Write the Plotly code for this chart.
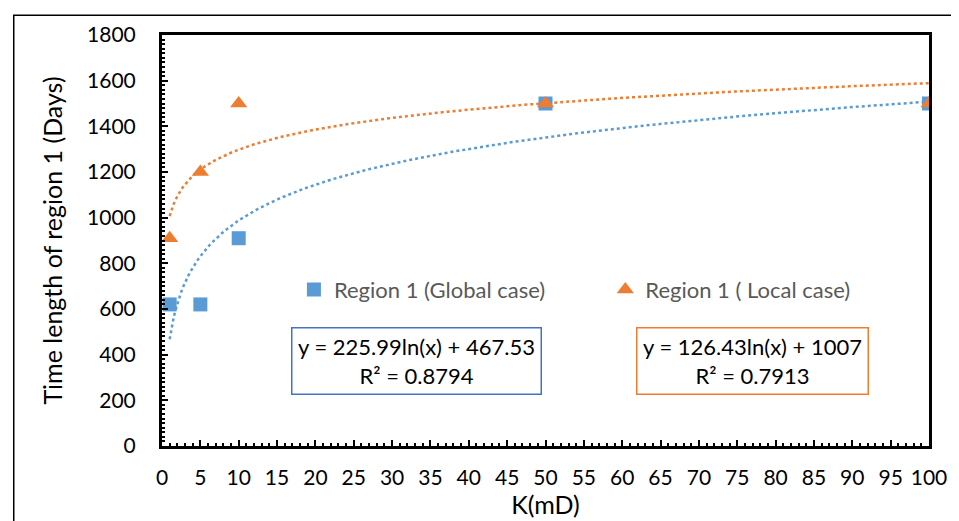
import numpy as np
import plotly.graph_objects as go

k_md = [1, 5, 10, 50, 100]
global_days = [620, 620, 910, 1500, 1500]
local_days = [910, 1200, 1500, 1500, 1500]

# Log trendline coefficients as printed on the chart (y = a ln(x) + b)
global_fit = (225.99, 467.53, 0.8794)
local_fit = (126.43, 1007, 0.7913)

BLUE = "#5B9BD5"
ORANGE = "#ED7D31"
FONT = "Lato, Calibri, sans-serif"

x_fit = np.linspace(1, 100, 400)

fig = go.Figure()

# Trendlines (dotted)
fig.add_trace(go.Scatter(
    x=x_fit, y=global_fit[0] * np.log(x_fit) + global_fit[1],
    mode="lines", line=dict(color=BLUE, width=2.5, dash="dot"),
    showlegend=False, hoverinfo="skip"))
fig.add_trace(go.Scatter(
    x=x_fit, y=local_fit[0] * np.log(x_fit) + local_fit[1],
    mode="lines", line=dict(color=ORANGE, width=2.5, dash="dot"),
    showlegend=False, hoverinfo="skip"))

# Data markers
fig.add_trace(go.Scatter(
    x=k_md, y=global_days, mode="markers", name="Region 1 (Global case)",
    marker=dict(symbol="square", size=14, color=BLUE), legend="legend"))
fig.add_trace(go.Scatter(
    x=k_md, y=local_days, mode="markers", name="Region 1 ( Local case)",
    marker=dict(symbol="triangle-up", size=15, color=ORANGE), legend="legend2"))

legend_style = dict(xanchor="left", yanchor="middle", y=0.38,
                    font=dict(size=22, color="#595959"),
                    bgcolor="rgba(0,0,0,0)", itemwidth=30)

# page has an 8px body margin, so the figure is sized to fit inside the window
fig.update_layout(
    width=951, height=513,
    margin=dict(l=154, r=21, t=27, b=72),
    paper_bgcolor="white", plot_bgcolor="white",
    font=dict(family=FONT, size=21, color="black"),
    legend=dict(x=0.172, **legend_style),
    legend2=dict(x=0.578, **legend_style),
)

fig.update_xaxes(
    range=[0, 100], tick0=0, dtick=5, showgrid=False, zeroline=False,
    showline=True, linecolor="black", linewidth=3, mirror=True,
    ticks="inside", ticklen=6, tickwidth=2, tickcolor="black",
    ticklabelstandoff=11,
    minor=dict(dtick=1, ticks="inside", ticklen=3, tickwidth=2, tickcolor="black"),
    title=dict(text="K(mD)", font=dict(size=25), standoff=2))
fig.update_yaxes(
    range=[0, 1800], tick0=0, dtick=200, showgrid=False, zeroline=False,
    showline=True, linecolor="black", linewidth=3, mirror=True,
    ticks="inside", ticklen=6, tickwidth=2, tickcolor="black",
    ticklabelstandoff=19,
    minor=dict(dtick=20, ticks="inside", ticklen=3, tickwidth=2, tickcolor="black"),
    title=dict(text="Time length of region 1 (Days)", font=dict(size=25), standoff=18))

# Equation boxes
fig.add_annotation(
    x=0.332, y=0.207, xref="paper", yref="paper", xanchor="center", yanchor="middle",
    showarrow=False,
    text=f"y = {global_fit[0]:.2f}ln(x) + {global_fit[1]:.2f}<br>R² = {global_fit[2]:.4f}",
    font=dict(size=22, color="black"), align="center",
    bordercolor="#4472C4", borderwidth=1.5, borderpad=4, bgcolor="white",
    width=240, height=57)
fig.add_annotation(
    x=0.770, y=0.207, xref="paper", yref="paper", xanchor="center", yanchor="middle",
    showarrow=False,
    text=f"y = {local_fit[0]:.2f}ln(x) + {local_fit[1]:g}<br>R² = {local_fit[2]:.4f}",
    font=dict(size=22, color="black"), align="center",
    bordercolor=ORANGE, borderwidth=1.5, borderpad=4, bgcolor="white",
    width=222, height=57)

# Outer chart frame (runs off the right and bottom edge)
fig.add_shape(type="rect", xref="paper", yref="paper",
              x0=-0.1933, y0=-0.3, x1=1.1, y1=1.048,
              line=dict(color="black", width=1.5), layer="below")

fig.write_html("out.html")
